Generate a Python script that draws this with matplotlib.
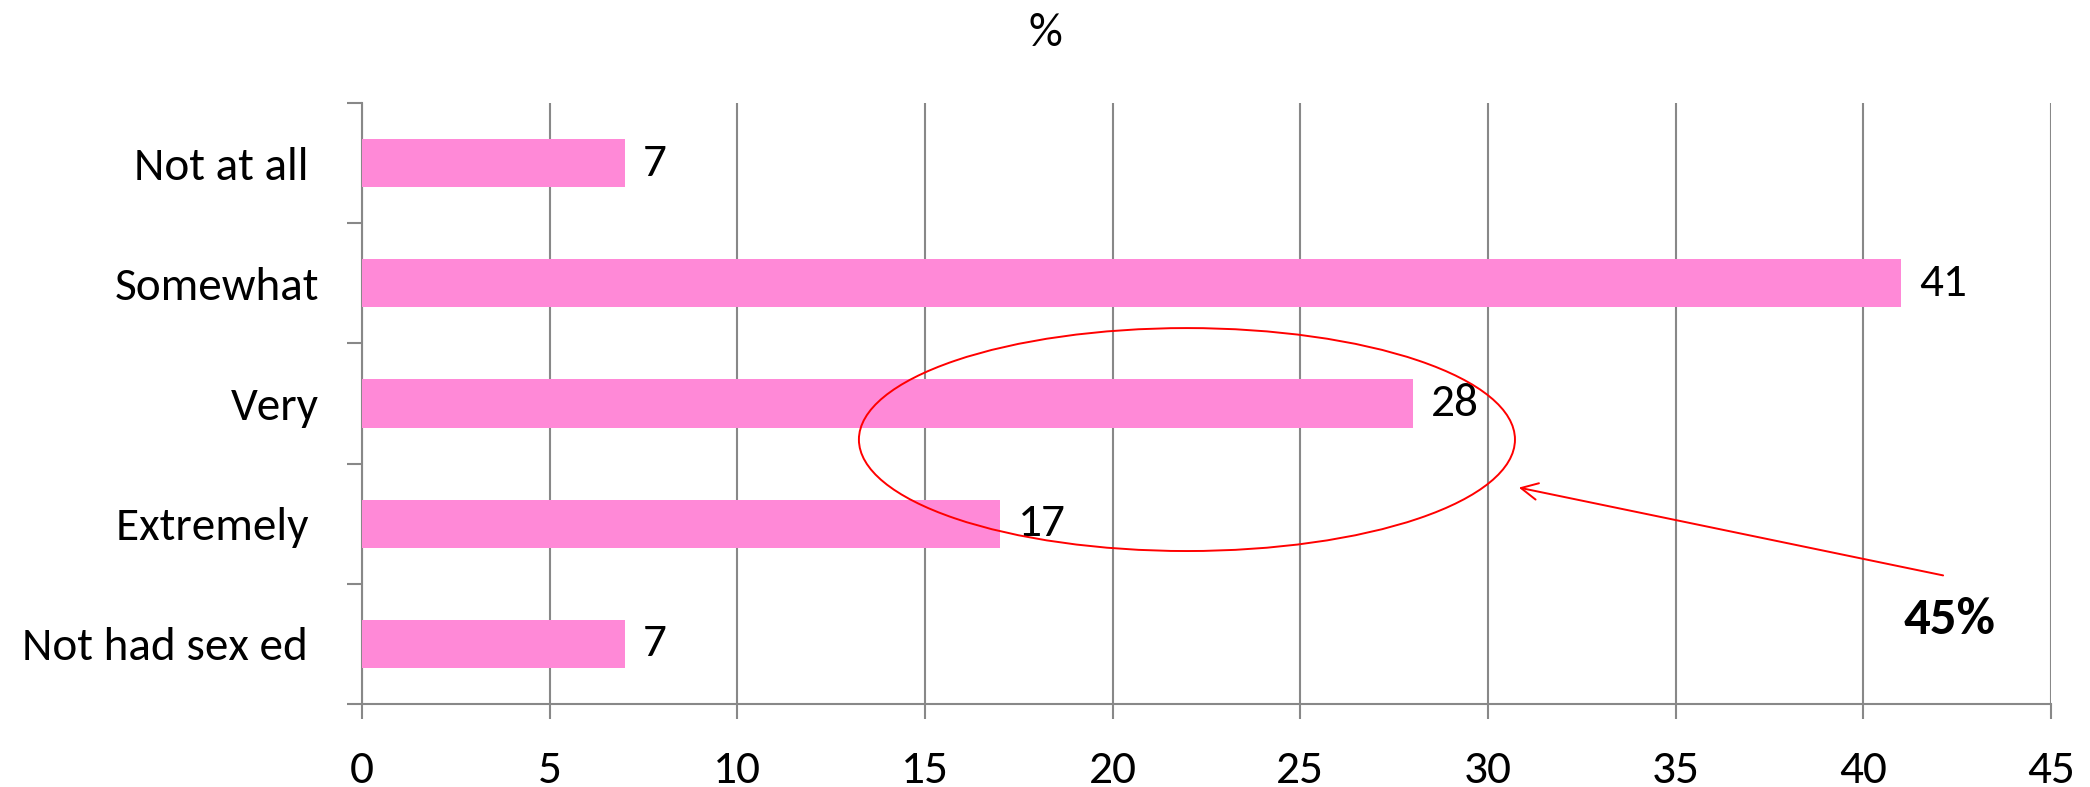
import matplotlib
matplotlib.use("Agg")
import matplotlib.pyplot as plt
from matplotlib.patches import Ellipse
from matplotlib import font_manager

categories = ["Not at all ", "Somewhat", "Very", "Extremely ", "Not had sex ed "]
values = [7, 41, 28, 17, 7]
xticks = [0, 5, 10, 15, 20, 25, 30, 35, 40, 45]
title = "%"
callout = "45%"

avail = {f.name for f in font_manager.fontManager.ttflist}
fam = [f for f in ["Carlito", "Lato", "DejaVu Sans"] if f in avail]
plt.rcParams['font.family'] = fam

GRAY = "#888888"
PINK = "#FF89D7"
FS = 34

fig = plt.figure(figsize=(20.9, 7.87), dpi=100)
ax = fig.add_axes([0.1732, 0.1055, 0.8081, 0.7636])

ypos = list(range(len(categories)))
ax.barh(ypos, values, height=0.4, color=PINK, zorder=3)
ax.set_ylim(len(categories) - 0.5, -0.5)
ax.set_xlim(0, 45)

ax.set_xticks(xticks)
ax.set_xticklabels([str(t) for t in xticks], fontsize=FS)
ax.set_yticks(ypos)
ax.set_yticklabels(categories, fontsize=FS)
ax.set_yticks([i - 0.5 for i in range(len(categories) + 1)], minor=True)

ax.tick_params(axis='x', direction='out', length=11, width=1.5, color=GRAY, pad=22)
ax.tick_params(axis='y', which='major', length=0, pad=31)
ax.tick_params(axis='y', which='minor', direction='out', length=11, width=1.5, color=GRAY)

ax.grid(axis='x', color=GRAY, linewidth=1.5, zorder=0)
ax.set_axisbelow(True)
for s in ['top', 'right']:
    ax.spines[s].set_visible(False)
for s in ['left', 'bottom']:
    ax.spines[s].set_color(GRAY)
    ax.spines[s].set_linewidth(1.5)

for y, v in zip(ypos, values):
    ax.annotate(str(v), (v, y), xytext=(13, 0), textcoords='offset points',
                va='center', ha='left', fontsize=FS, zorder=4)

ell = Ellipse((21.98, 2.30), 17.48, 1.855, fill=False, edgecolor='red', linewidth=1.4, zorder=5)
ax.add_patch(ell)
ax.annotate("", xy=(30.75, 2.695), xytext=(42.2, 3.435),
            arrowprops=dict(arrowstyle='->', color='red', lw=1.4, mutation_scale=30), zorder=5)
ax.text(42.3, 3.80, callout, fontsize=38, fontweight='bold', ha='center', va='center')

fig.text(1045 / 2090, 1 - 33 / 787, title, fontsize=FS, ha='center', va='center')

fig.savefig("out.png", dpi=100)
